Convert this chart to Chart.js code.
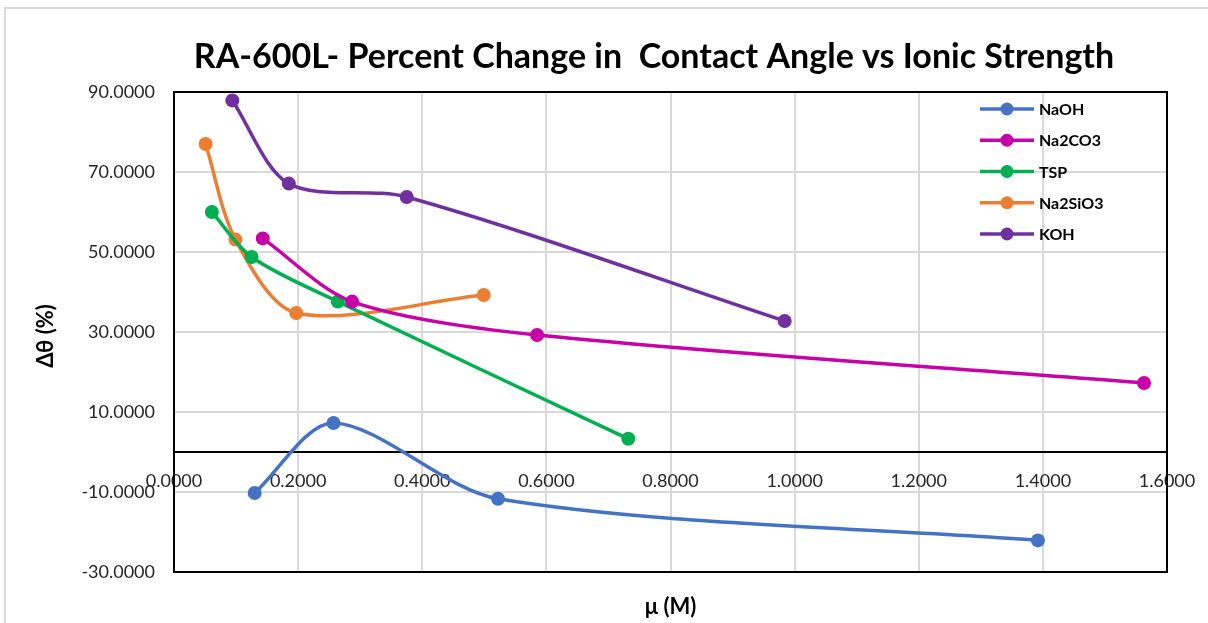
<!DOCTYPE html>
<html><head><meta charset="utf-8">
<script src="https://cdn.jsdelivr.net/npm/chart.js@4"></script>
<style>html,body{margin:0;padding:0;background:#fff;}#wrap{width:1208px;height:623px;position:relative;}</style>
</head><body><div id="wrap"><canvas id="c" width="1208" height="623"></canvas></div>
<script>
const chartTitle = 'RA-600L- Percent Change in  Contact Angle vs Ionic Strength';
const xTitle = 'μ (M)';
const yTitle = 'Δθ (%)';
const seriesNames = ['NaOH', 'Na2CO3', 'TSP', 'Na2SiO3', 'KOH'];
const seriesColors = ['#4472C4', '#C800A8', '#00B050', '#ED7D31', '#7030A0'];
const naohX = [0.130, 0.257, 0.522, 1.392];
const naohY = [-10.25, 7.25, -11.70, -22.10];
const na2co3X = [0.143, 0.287, 0.585, 1.563];
const na2co3Y = [53.40, 37.60, 29.25, 17.25];
const tspX = [0.061, 0.125, 0.264, 0.732];
const tspY = [60.00, 48.75, 37.60, 3.30];
const na2sio3X = [0.051, 0.099, 0.197, 0.499];
const na2sio3Y = [77.00, 53.10, 34.75, 39.25];
const kohX = [0.094, 0.185, 0.375, 0.984];
const kohY = [87.90, 67.10, 63.75, 32.75];
const xTicksMin = 0, xTicksMax = 1.6, xStep = 0.2;
const yTicksMin = -30, yTicksMax = 90, yStep = 20;

const seriesX = [naohX, na2co3X, tspX, na2sio3X, kohX];
const seriesY = [naohY, na2co3Y, tspY, na2sio3Y, kohY];

const datasets = seriesNames.map((name, i) => ({
  label: name,
  data: seriesX[i].map((x, j) => ({x: x, y: seriesY[i][j]})),
  showLine: true,
  borderColor: seriesColors[i],
  backgroundColor: seriesColors[i],
  pointBackgroundColor: seriesColors[i],
  pointBorderColor: seriesColors[i],
  pointRadius: 7,
  pointBorderWidth: 0,
  borderWidth: 3.5,
  tension: 0.3,
  clip: false
}));

const FONT = 'Lato';

const decor = {
  id: 'decor',
  beforeDraw(chart) {
    const ctx = chart.ctx;
    ctx.save();
    ctx.strokeStyle = '#D9D9D9';
    ctx.lineWidth = 2;
    ctx.beginPath();
    ctx.moveTo(5, 623); ctx.lineTo(5, 8); ctx.lineTo(1208, 8);
    ctx.stroke();
    ctx.restore();
  },
  beforeDatasetsDraw(chart) {
    const ctx = chart.ctx, a = chart.chartArea;
    ctx.save();
    ctx.strokeStyle = '#000';
    ctx.lineWidth = 2;
    ctx.strokeRect(a.left, a.top, a.right - a.left, a.bottom - a.top);
    ctx.restore();
  },
  afterDraw(chart) {
    const ctx = chart.ctx, a = chart.chartArea;
    ctx.save();
    ctx.fillStyle = '#000';
    ctx.textAlign = 'center';
    ctx.textBaseline = 'alphabetic';
    ctx.font = 'bold 34px ' + FONT;
    ctx.fillText(chartTitle, 654, 68);
    ctx.font = 'bold 22px ' + FONT;
    ctx.fillText(xTitle, (a.left + a.right) / 2, 614);
    ctx.save();
    ctx.translate(45.5, 336);
    ctx.rotate(-Math.PI / 2);
    ctx.textBaseline = 'middle';
    ctx.fillText(yTitle, 0, 0);
    ctx.restore();
    // legend
    const x0 = a.right - 187;
    chart.data.datasets.forEach((ds, i) => {
      const y = a.top + 17 + i * 31.25;
      ctx.strokeStyle = ds.borderColor;
      ctx.lineWidth = 3.5;
      ctx.beginPath(); ctx.moveTo(x0, y); ctx.lineTo(x0 + 54, y); ctx.stroke();
      ctx.fillStyle = ds.borderColor;
      ctx.beginPath(); ctx.arc(x0 + 27, y, 6.5, 0, Math.PI * 2); ctx.fill();
      ctx.fillStyle = '#000';
      ctx.textAlign = 'left';
      ctx.textBaseline = 'middle';
      ctx.font = 'bold 16px ' + FONT;
      ctx.fillText(ds.label, x0 + 59, y + 1);
    });
    ctx.restore();
  }
};

new Chart(document.getElementById('c'), {
  type: 'scatter',
  data: { datasets: datasets },
  options: {
    responsive: false,
    animation: false,
    devicePixelRatio: 1,
    layout: { padding: { top: 92, right: 41, bottom: 51, left: 0 } },
    plugins: { legend: { display: false }, title: { display: false }, tooltip: { enabled: false } },
    scales: {
      x: {
        type: 'linear',
        position: { y: 0 },
        min: xTicksMin, max: xTicksMax,
        afterFit: s => { s.paddingLeft = 0; s.paddingRight = 0; },
        ticks: { stepSize: xStep, callback: v => Number(v).toFixed(4), font: { family: FONT, size: 18 }, color: '#262626', padding: 18, maxRotation: 0, autoSkip: false },
        grid: { color: '#D9D9D9', lineWidth: 2, drawTicks: false },
        border: { display: true, color: '#000', width: 2 }
      },
      y: {
        type: 'linear',
        min: yTicksMin, max: yTicksMax,
        afterFit: s => { s.width = 174; },
        ticks: { stepSize: yStep, callback: v => Number(v).toFixed(4), font: { family: FONT, size: 18 }, color: '#262626', padding: 19 },
        grid: { color: '#D9D9D9', lineWidth: 2, drawTicks: false },
        border: { display: false }
      }
    }
  },
  plugins: [decor]
});
</script></body></html>
